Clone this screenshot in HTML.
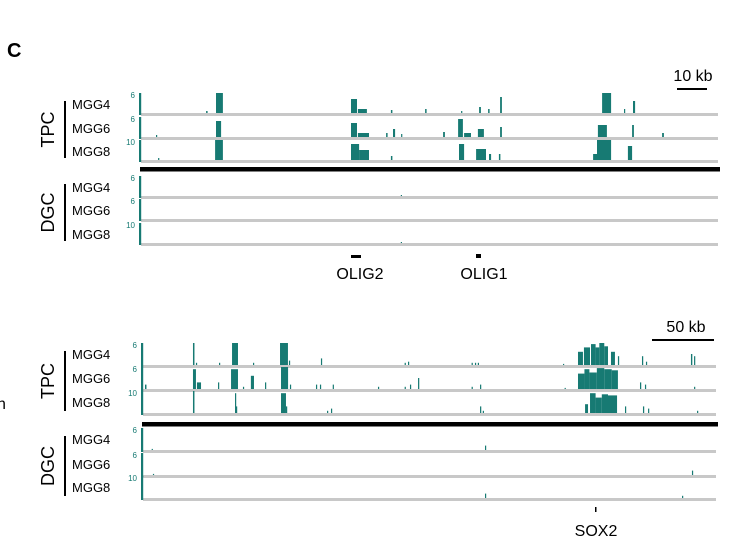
<!DOCTYPE html>
<html><head><meta charset="utf-8"><style>
body{margin:0;background:#fff;}
svg{display:block;font-family:"Liberation Sans",Arial,sans-serif;}
</style></head><body>
<svg id="fig" width="744" height="549" viewBox="0 0 744 549">
<text x="7" y="57" font-size="20" font-weight="bold">C</text>
<g id="tracks"></g>
</svg>
<script>
// peak data: [startKb, endKb, relativeHeight]
const topTPC4=[[21.7,22.2,0.1],[25,27.3,1],[70,72,0.7],[72.3,75.3,0.2],[83.3,83.8,0.15],[94.7,95.2,0.2],[106.7,107.1,0.1],[112.7,113.3,0.3],[115.7,116.2,0.2],[119.7,120.3,0.8],[153.7,156.7,1],[161,161.4,0.2],[164,164.7,0.6]];
const topTPC6=[[5,5.4,0.1],[25,26.7,0.8],[70,72,0.7],[72.3,76,0.2],[81.7,82.2,0.2],[84,84.7,0.4],[86.7,87.1,0.15],[100.7,101.3,0.25],[105.7,107.3,0.9],[107.7,110,0.2],[112.3,114.3,0.4],[119.7,120.3,0.5],[152.3,155.3,0.6],[163.7,164.3,0.6],[173.7,174.3,0.2]];
const topTPC8=[[5.7,6.1,0.1],[24.7,27.3,1],[70,72.7,0.8],[72.7,76,0.5],[83.3,83.8,0.2],[106,107.7,0.8],[111.7,115,0.55],[116,116.7,0.3],[119.3,119.8,0.3],[150.7,152,0.3],[152,156.7,1],[162.3,163.7,0.7]];
const topDGC4=[[86.6,87,0.05]];
const topDGC6=[];
const topDGC8=[[86.6,87,0.05]];
const botTPC4=[[40.3,41.5,1],[42.7,43.4,0.1],[61.3,62,0.1],[71.8,76.6,1],[88.7,89.4,0.1],[110.5,116.9,1],[117.7,118.5,0.2],[143.5,144.3,0.3],[211,211.8,0.1],[213.7,214.5,0.15],[265,265.8,0.1],[267.7,268.5,0.1],[270,270.8,0.1],[338.7,339.5,0.05],[350.8,354.8,0.6],[355.6,360.5,0.8],[361.3,365,0.95],[365,368,0.8],[368,372,1],[372,375,0.85],[377.4,380.6,0.6],[383,384,0.4],[402.4,403.4,0.4],[405.6,406.4,0.15],[441.9,443,0.5],[444.4,445.3,0.4]];
const botTPC6=[[1.6,2.8,0.2],[40.3,42.7,0.9],[43.5,46.8,0.3],[60.5,61.3,0.3],[71,76.6,0.9],[80.6,81.4,0.1],[87,89.5,0.6],[98.4,99.2,0.3],[111.3,117,1],[118.5,119.3,0.2],[139.5,140.3,0.2],[142.7,143.5,0.2],[153,153.8,0.2],[189.5,190.3,0.1],[211,211.8,0.1],[215.3,216.1,0.2],[221.8,222.8,0.5],[265,265.8,0.1],[271.8,272.6,0.2],[340,340.8,0.05],[350.8,356,0.7],[356,360,0.9],[360,366,0.75],[366,372,0.95],[372,378,0.9],[378,383,0.85],[400.8,401.8,0.3],[404.8,405.6,0.2],[444.4,445.2,0.1]];
const botTPC8=[[40.3,41.5,1],[74.2,75,0.9],[75,75.8,0.3],[111.3,115.3,0.9],[115.3,116.3,0.3],[148.4,149.2,0.1],[151.6,152.4,0.2],[271.8,272.8,0.3],[274,274.8,0.1],[356.5,358.9,0.4],[360.5,365,0.9],[365,370,0.7],[370,375,0.85],[375,382.3,0.8],[388.7,389.5,0.3],[403.2,404.2,0.3],[407.3,408.1,0.2],[446.8,447.6,0.1]];
const botDGC4=[[7,7.6,0.05],[275.8,276.6,0.2]];
const botDGC6=[[8,8.6,0.05],[442.7,443.5,0.2]];
const botDGC8=[[275.8,276.6,0.2],[434.7,435.5,0.1]];
const sampleNames=["MGG4","MGG6","MGG8"];
const scaleLabels=["6","6","10"];
const groupNames=["TPC","DGC"];

const TEAL="#177a73";
const NS="http://www.w3.org/2000/svg";
const root=document.getElementById('tracks');
function mk(tag,attrs,parent){const e=document.createElementNS(NS,tag);for(const k in attrs)e.setAttribute(k,attrs[k]);(parent||root).appendChild(e);return e;}

const panels=[
 {id:'olig',x0:141,x1:718,ppk:3,base:[113,137,160,196,219,243],h:20,sep:169,data:[topTPC4,topTPC6,topTPC8,topDGC4,topDGC6,topDGC8]},
 {id:'sox2',x0:143,x1:716,ppk:1.24,base:[365,389,413,450,475,498],h:22,sep:424,data:[botTPC4,botTPC6,botTPC8,botDGC4,botDGC6,botDGC8]}
];
panels.forEach(p=>{
  const xs=kb=>p.x0+kb*p.ppk;
  const g=mk('g',{});
  
  
  p.data.forEach((arr,i)=>{
    const b=p.base[i];
    const tr=mk('g',{},g);
    
    
    const ln=mk('rect',{x:p.x0,y:b,width:p.x1-p.x0,height:3,fill:'#c8c8c8'},tr);
    
    
    const ax=mk('rect',{x:p.x0-2,y:b-p.h,width:2.2,height:p.h+2,fill:TEAL},tr);
    
    
    const sl=mk('text',{x:p.x0-6,y:b-p.h+5,'font-size':8,fill:TEAL,'text-anchor':'end'},tr);
    sl.textContent=scaleLabels[i%3];
    
    
    const nm=mk('text',{x:72,y:b-p.h+16,'font-size':13,fill:'#000'},tr);
    nm.textContent=sampleNames[i%3];
    
    
    arr.forEach(d=>{
      const x=xs(d[0]);const w=Math.max(1.2,xs(d[1])-x);const hh=Math.max(1,d[2]*p.h);
      const r=mk('rect',{x:x,y:b-hh,width:w,height:hh,fill:TEAL},tr);
      
      
    });
  });
  const sp=mk('rect',{x:p.x0-1,y:p.sep-2,width:p.x1-p.x0+3,height:4.5,fill:'#000'},g);
  
  
  [0,1].forEach(k=>{
    const top=p.base[k*3]-p.h+8, bot=p.base[k*3+2]-2;
    const bar=mk('rect',{x:64,y:top,width:2,height:bot-top,fill:'#000'},g);
    
    
    const cy=(top+bot)/2;
    const t=mk('text',{x:0,y:0,'font-size':18,'text-anchor':'middle',transform:`translate(54,${cy}) rotate(-90)`},g);
    t.textContent=groupNames[k];
    
    
  });
});
function label(txt,x,y,size,name,anchor){const t=mk('text',{x:x,y:y,'font-size':size,'text-anchor':anchor||'middle'});t.textContent=txt;return t;}
function rect(x,y,w,h,name){const r=mk('rect',{x:x,y:y,width:w,height:h,fill:'#000'});}
rect(677,88,30,2,'scale-bar-10kb');
label('10 kb',693,81,16,'scale-text-10kb');
rect(652,339,62,2,'scale-bar-50kb');
label('50 kb',686,332,16,'scale-text-50kb');
rect(351,255,10,3,'gene-olig2-mark');
label('OLIG2',360,279,16,'gene-olig2-label');
rect(476,254,5,4,'gene-olig1-mark');
label('OLIG1',484,279,16,'gene-olig1-label');
rect(595,507,1.5,5,'gene-sox2-mark');
label('SOX2',596,536,16,'gene-sox2-label');
label('n',-3,409,16,'cropped-text','start');
</script>
</body></html>
